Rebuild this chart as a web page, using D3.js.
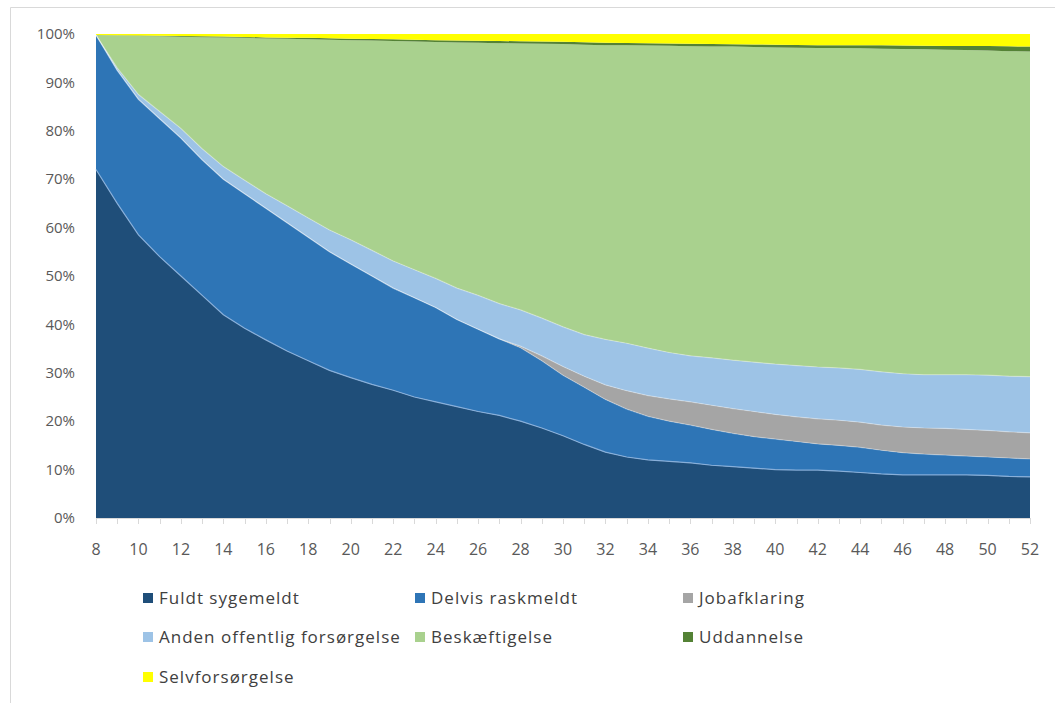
<!DOCTYPE html>
<html><head><meta charset="utf-8">
<script src="https://cdn.jsdelivr.net/npm/d3@7"></script>
<style>
html,body{margin:0;padding:0;background:#fff;}
svg{display:block;font-family:"Open Sans",sans-serif;}
</style></head>
<body><svg id="c" width="1055" height="703"></svg>
<script>
const weeks = d3.range(8, 53);
const seriesNames = ["Fuldt sygemeldt","Delvis raskmeldt","Jobafklaring","Anden offentlig forsørgelse","Beskæftigelse","Uddannelse","Selvforsørgelse"];
const colors = ["#1f4e79","#2e75b6","#a5a5a5","#9dc3e6","#a9d18e","#548235","#ffff00"];

const fuldt = [72.0,65.0,58.5,54.0,50.0,46.0,42.0,39.2,36.8,34.5,32.5,30.5,29.0,27.6,26.4,25.0,24.0,23.0,22.0,21.2,20.0,18.6,17.0,15.2,13.6,12.6,12.0,11.7,11.4,10.9,10.6,10.3,10.0,9.9,9.9,9.7,9.4,9.1,8.9,8.9,8.9,8.9,8.8,8.6,8.5];
const delvis = [27.8,27.5,28.0,28.5,28.5,28.0,28.0,27.8,27.2,26.5,25.5,24.5,23.5,22.4,21.1,20.5,19.5,18.0,17.0,15.8,15.2,13.9,12.5,11.8,10.9,9.9,9.0,8.3,7.8,7.4,6.9,6.5,6.3,5.9,5.4,5.3,5.2,4.9,4.6,4.3,4.1,3.9,3.8,3.8,3.7];
const jobafklaring = [0,0,0,0,0,0,0,0,0,0,0,0,0,0,0,0,0,0,0,0,0.3,1.0,1.8,2.3,3.0,3.8,4.3,4.6,4.8,5.0,5.1,5.2,5.1,5.1,5.2,5.2,5.2,5.2,5.3,5.4,5.5,5.5,5.5,5.4,5.4];
const anden = [0.0,0.5,1.0,1.5,2.0,2.3,2.6,2.8,3.0,3.5,4.0,4.5,5.0,5.3,5.6,5.8,6.0,6.5,7.0,7.3,7.5,7.8,8.2,8.6,9.4,9.8,9.8,9.6,9.5,9.8,10.0,10.2,10.4,10.6,10.7,10.8,10.9,11.0,11.0,11.0,11.1,11.3,11.4,11.5,11.6];
const beskaeftigelse = [0,6.7,12.1,15.55,18.95,23.05,26.7,29.4,32.05,34.5,36.9,39.3,41.2,43.35,45.45,47.15,48.85,50.75,52.2,53.8,55.05,56.7,58.45,59.9,60.8,61.55,62.5,63.35,63.95,64.3,64.8,65.1,65.4,65.65,65.9,66.1,66.35,66.75,67.1,67.25,67.15,67.1,67.1,67.15,67.2];
const uddannelse = [0,0.05,0.1,0.1,0.15,0.2,0.2,0.2,0.25,0.25,0.3,0.3,0.3,0.3,0.35,0.35,0.35,0.4,0.4,0.45,0.45,0.45,0.45,0.5,0.5,0.5,0.5,0.5,0.55,0.55,0.5,0.55,0.6,0.6,0.6,0.6,0.65,0.7,0.7,0.7,0.75,0.8,0.9,1.0,1.0];
const selv = [0.2,0.25,0.3,0.35,0.4,0.45,0.5,0.6,0.7,0.75,0.8,0.9,1.0,1.05,1.1,1.2,1.3,1.35,1.4,1.45,1.5,1.55,1.6,1.7,1.8,1.85,1.9,1.95,2.0,2.05,2.1,2.15,2.2,2.25,2.3,2.3,2.3,2.35,2.4,2.45,2.5,2.5,2.5,2.55,2.6];
const yTicks = [0,0.1,0.2,0.3,0.4,0.5,0.6,0.7,0.8,0.9,1.0];
const xLabelWeeks = d3.range(8, 53, 2);

const allSeries = [fuldt, delvis, jobafklaring, anden, beskaeftigelse, uddannelse, selv];
const rows = weeks.map((w, i) => {
  const r = {week: w};
  seriesNames.forEach((n, k) => r[n] = allSeries[k][i]);
  return r;
});

const svg = d3.select("#c");
const m = {left: 96, right: 1030, top: 34, bottom: 518};
const x = d3.scaleLinear().domain([8, 52]).range([m.left, m.right]);
const y = d3.scaleLinear().domain([0, 1]).range([m.bottom, m.top]);

// frame
svg.append("path").attr("d", "M10.5,703 V7.5 H1055").attr("fill","none").attr("stroke","#d9d9d9").attr("stroke-width",1);

const stack = d3.stack().keys(seriesNames).offset(d3.stackOffsetExpand);
const layers = stack(rows);

const area = d3.area().x(d => x(d.data.week)).y0(d => y(d[0])).y1(d => y(d[1]));
svg.append("g").selectAll("path").data(layers).join("path")
  .attr("d", area).attr("fill", (d, i) => colors[i]);

const topLine = d3.line().x(d => x(d.data.week)).y(d => y(d[1]));
svg.append("g").selectAll("path").data(layers.slice(0, 4)).join("path")
  .attr("d", topLine).attr("fill", "none")
  .attr("stroke", (d, i) => i === 0 ? "#8db3dd" : "#ffffff")
  .attr("stroke-opacity", (d, i) => i === 0 ? 0.9 : 0.3)
  .attr("stroke-width", 1.2);

// y axis labels
svg.append("g").selectAll("text").data(yTicks).join("text")
  .attr("x", 75).attr("y", d => y(d)).attr("dy", "0.35em")
  .attr("text-anchor", "end").attr("fill", "#595959").attr("font-size", 15)
  .text(d => d3.format(".0%")(d));

// x axis
svg.append("line").attr("x1", m.left).attr("x2", m.right).attr("y1", m.bottom + 0.5).attr("y2", m.bottom + 0.5)
  .attr("stroke", "#d9d9d9");
svg.append("g").selectAll("line").data(weeks).join("line")
  .attr("x1", d => Math.round(x(d)) + 0.5).attr("x2", d => Math.round(x(d)) + 0.5)
  .attr("y1", m.bottom).attr("y2", m.bottom + 6).attr("stroke", "#d9d9d9");
svg.append("g").selectAll("text").data(xLabelWeeks).join("text")
  .attr("x", d => x(d)).attr("y", 549).attr("dy", "0.35em")
  .attr("text-anchor", "middle").attr("fill", "#595959").attr("font-size", 16)
  .text(d => d);

// legend
const legPos = [[143,598],[415,598],[683,598],[143,637],[415,637],[683,637],[143,677]];
const lg = svg.append("g").selectAll("g").data(seriesNames).join("g")
  .attr("transform", (d, i) => `translate(${legPos[i][0]},${legPos[i][1]})`);
lg.append("rect").attr("x", 0).attr("y", -5).attr("width", 10).attr("height", 10)
  .attr("fill", (d, i) => colors[i]);
lg.append("text").attr("x", 16).attr("y", 0).attr("dy", "0.35em")
  .attr("fill", "#404040").attr("font-size", 17).attr("letter-spacing", "1px").text(d => d);
</script></body></html>
